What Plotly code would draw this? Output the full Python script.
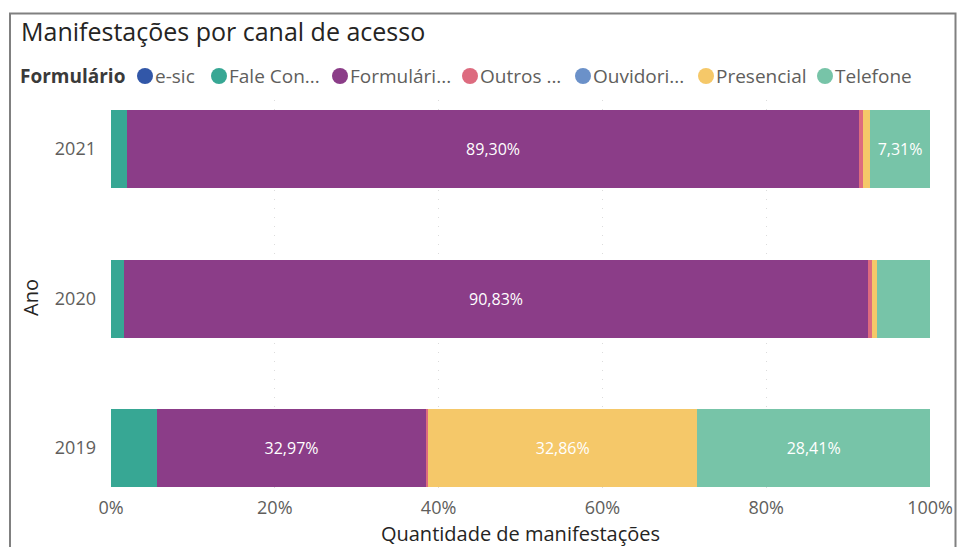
import plotly.graph_objects as go

years = ["2019", "2020", "2021"]
channels = ["e-sic", "Fale Conosco", "Formulário", "Outros meios", "Ouvidoria", "Presencial", "Telefone"]
legend_labels = ["e-sic", "Fale Con...", "Formulári...", "Outros ...", "Ouvidori...", "Presencial", "Telefone"]
colors = ["#3257A8", "#37A794", "#8B3D88", "#DD6B7F", "#6B91C9", "#F5C869", "#77C4A8"]

# percent share per year (2019, 2020, 2021)
esic = [0.00, 0.00, 0.00]
fale = [5.56, 1.60, 2.00]
formulario = [32.97, 90.83, 89.30]
outros = [0.20, 0.45, 0.49]
ouvidoria = [0.00, 0.00, 0.00]
presencial = [32.86, 0.70, 0.90]
telefone = [28.41, 6.42, 7.31]
series = [esic, fale, formulario, outros, ouvidoria, presencial, telefone]

x_ticks = [0, 20, 40, 60, 80, 100]
x_tick_labels = ["0%", "20%", "40%", "60%", "80%", "100%"]

W, H = 957, 547
L, R, T, B = 111, 27, 100, 52
PW, PH = W - L - R, H - T - B


def px_x(p):
    return (p - L) / PW


def px_y(p):
    return (H - B - p) / PH


FONT = "Open Sans"
fig = go.Figure()
for name, vals, col in zip(channels, series, colors):
    labels = [(f"{v:.2f}%".replace(".", ",") if v > 7 else "") for v in vals]
    fig.add_trace(go.Bar(
        y=years, x=vals, name=name, orientation="h",
        marker=dict(color=col, line=dict(width=0)),
        text=labels, textposition="inside", insidetextanchor="middle",
        textfont=dict(color="white", size=16, family=FONT),
        showlegend=False, hoverinfo="x+y+name",
    ))

fig.update_layout(
    width=W, height=H,
    margin=dict(l=L, r=R, t=T, b=B),
    barmode="stack", bargap=0.478,
    plot_bgcolor="white", paper_bgcolor="white",
    separators=",.",
    font=dict(family=FONT, color="#605E5C"),
    showlegend=False,
)
fig.update_xaxes(
    range=[0, 100], tickvals=x_ticks, ticktext=x_tick_labels, automargin=False,
    showgrid=True, gridcolor="#DCDCDC", griddash="1px,8px", gridwidth=1,
    zeroline=False, showline=False,
    tickfont=dict(size=18, color="#605E5C", family=FONT),
    title=dict(text="Quantidade de manifestações", font=dict(size=20, color="#252423", family=FONT), standoff=8),
)
fig.update_yaxes(
    type="category", categoryorder="array", categoryarray=years, automargin=False,
    range=[-0.314, 2.328], showgrid=False, zeroline=False, showline=False,
    tickfont=dict(size=18, color="#605E5C", family=FONT), ticklabelstandoff=14,
    title=dict(text="Ano", font=dict(size=20, color="#252423", family=FONT), standoff=10),
)

annotations = [
    dict(text="Manifestações por canal de acesso", x=px_x(19), y=px_y(31), xref="paper", yref="paper",
         xanchor="left", yanchor="middle", showarrow=False, font=dict(size=25, color="#252423", family=FONT)),
    dict(text="<b>Formulário</b>", x=px_x(18), y=px_y(76), xref="paper", yref="paper",
         xanchor="left", yanchor="middle", showarrow=False, font=dict(size=19, color="#3A3A3A", family=FONT)),
]
circle_centers = [145, 219, 340, 470, 583, 706, 825]
shapes = [dict(type="rect", xref="paper", yref="paper", x0=px_x(10), x1=px_x(955.5), y0=px_y(600), y1=px_y(13.5),
               line=dict(color="#808080", width=2), fillcolor="rgba(0,0,0,0)", layer="below")]
for cx, lab, col in zip(circle_centers, legend_labels, colors):
    shapes.append(dict(type="circle", xref="paper", yref="paper", xsizemode="pixel", ysizemode="pixel",
                       xanchor=px_x(cx), yanchor=px_y(76), x0=-8, x1=8, y0=-8, y1=8,
                       fillcolor=col, line=dict(width=0)))
    annotations.append(dict(text=lab, x=px_x(cx + 8), y=px_y(76), xref="paper", yref="paper",
                            xanchor="left", yanchor="middle", showarrow=False,
                            font=dict(size=19, color="#605E5C", family=FONT)))
fig.update_layout(annotations=annotations, shapes=shapes)

fig.write_html(
    "out.html",
    config={"displayModeBar": False},
    post_script="document.documentElement.style.margin='0';document.body.style.margin='0';",
)
